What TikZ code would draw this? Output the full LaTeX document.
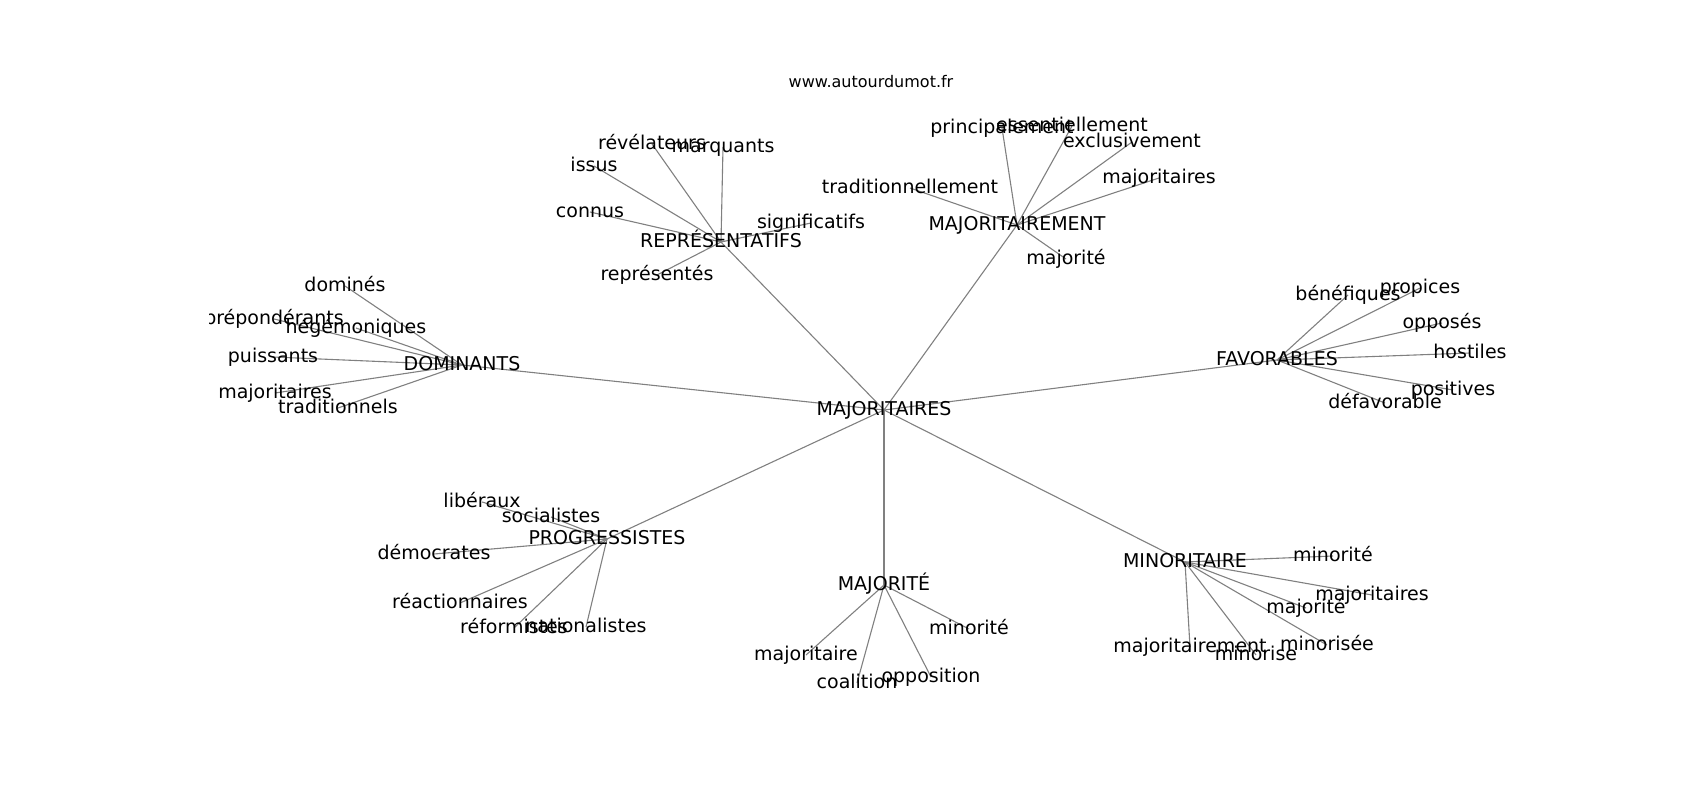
\documentclass[tikz,border=0pt]{standalone}
\usepackage{fontspec}
\setmainfont{DejaVu Sans}
\usetikzlibrary{backgrounds}
\definecolor{edgegray}{HTML}{808080}
\tikzset{
  lbl/.style={anchor=base, inner sep=0pt, font=\fontsize{19}{22}\selectfont, text=black},
  ttl/.style={anchor=base, inner sep=0pt, font=\fontsize{16}{19}\selectfont, text=black},
  edge/.style={draw=edgegray, line width=1.1pt},
}
\newcommand{\lk}[2]{\draw[edge] ([yshift=5pt]#1.base) -- ([yshift=5pt]#2.base);}
\begin{document}
\begin{tikzpicture}[x=1pt,y=-1pt]
\useasboundingbox (0,0) rectangle (1700,800);
\node[ttl] (url) at (871,88) {www.autourdumot.fr};
\begin{scope}
\clip (209,96) rectangle (1530,712);
% hubs
\node[lbl] (c) at (884,415) {MAJORITAIRES};
\node[lbl] (dom) at (462,370) {DOMINANTS};
\node[lbl] (rep) at (721,247) {REPRÉSENTATIFS};
\node[lbl] (maj) at (1017,230) {MAJORITAIREMENT};
\node[lbl] (fav) at (1277,365) {FAVORABLES};
\node[lbl] (pro) at (607,544) {PROGRESSISTES};
\node[lbl] (mte) at (884,590) {MAJORITÉ};
\node[lbl] (min) at (1185,567) {MINORITAIRE};
% DOMINANTS
\node[lbl] (d1) at (345,291) {dominés};
\node[lbl] (d2) at (274,324) {prépondérants};
\node[lbl] (d3) at (356,333) {hégémoniques};
\node[lbl] (d4) at (273,362) {puissants};
\node[lbl] (d5) at (275,398) {majoritaires};
\node[lbl] (d6) at (338,413) {traditionnels};
% REPRESENTATIFS
\node[lbl] (r1) at (652,149) {révélateurs};
\node[lbl] (r2) at (723,152) {marquants};
\node[lbl] (r3) at (594,171) {issus};
\node[lbl] (r4) at (590,217) {connus};
\node[lbl] (r5) at (811,228) {significatifs};
\node[lbl] (r6) at (657,280) {représentés};
% MAJORITAIREMENT
\node[lbl] (m1) at (1002,133) {principalement};
\node[lbl] (m2) at (1072,131) {essentiellement};
\node[lbl] (m3) at (1132,147) {exclusivement};
\node[lbl] (m4) at (1159,183) {majoritaires};
\node[lbl] (m5) at (910,193) {traditionnellement};
\node[lbl] (m6) at (1066,264) {majorité};
% FAVORABLES
\node[lbl] (f1) at (1348,300) {bénéfiques};
\node[lbl] (f2) at (1420,293) {propices};
\node[lbl] (f3) at (1442,328) {opposés};
\node[lbl] (f4) at (1470,358) {hostiles};
\node[lbl] (f5) at (1453,395) {positives};
\node[lbl] (f6) at (1385,408) {défavorable};
% PROGRESSISTES
\node[lbl] (p1) at (482,507) {libéraux};
\node[lbl] (p2) at (551,522) {socialistes};
\node[lbl] (p3) at (434,559) {démocrates};
\node[lbl] (p4) at (460,608) {réactionnaires};
\node[lbl] (p5) at (514,633) {réformistes};
\node[lbl] (p6) at (586,632) {nationalistes};
% MAJORITE
\node[lbl] (e1) at (969,634) {minorité};
\node[lbl] (e2) at (806,660) {majoritaire};
\node[lbl] (e3) at (857,688) {coalition};
\node[lbl] (e4) at (931,682) {opposition};
% MINORITAIRE
\node[lbl] (n1) at (1333,561) {minorité};
\node[lbl] (n2) at (1372,600) {majoritaires};
\node[lbl] (n3) at (1306,613) {majorité};
\node[lbl] (n4) at (1190,652) {majoritairement};
\node[lbl] (n5) at (1256,660) {minorise};
\node[lbl] (n6) at (1327,650) {minorisée};
\begin{pgfonlayer}{background}
\foreach \h in {dom,rep,maj,fav,pro,mte,min}{\lk{c}{\h}}
\foreach \l in {d1,d2,d3,d4,d5,d6}{\lk{dom}{\l}}
\foreach \l in {r1,r2,r3,r4,r5,r6}{\lk{rep}{\l}}
\foreach \l in {m1,m2,m3,m4,m5,m6}{\lk{maj}{\l}}
\foreach \l in {f1,f2,f3,f4,f5,f6}{\lk{fav}{\l}}
\foreach \l in {p1,p2,p3,p4,p5,p6}{\lk{pro}{\l}}
\foreach \l in {e1,e2,e3,e4}{\lk{mte}{\l}}
\foreach \l in {n1,n2,n3,n4,n5,n6}{\lk{min}{\l}}
\end{pgfonlayer}
\end{scope}
\end{tikzpicture}
\end{document}
